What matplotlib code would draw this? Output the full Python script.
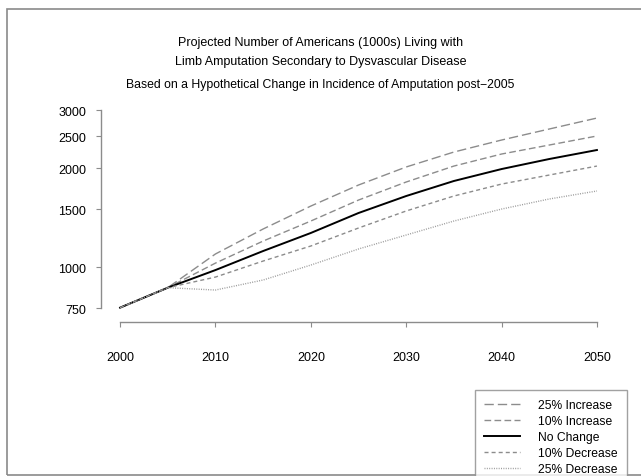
import matplotlib
matplotlib.use("Agg")
import matplotlib.pyplot as plt
from matplotlib.patches import Rectangle
from matplotlib.ticker import FixedLocator, NullLocator

plt.rcParams['font.family'] = ['Liberation Sans', 'DejaVu Sans']

years = [2000, 2005, 2010, 2015, 2020, 2025, 2030, 2035, 2040, 2045, 2050]
inc25 = [752, 865, 1096, 1306, 1534, 1778, 2018, 2241, 2438, 2634, 2845]
inc10 = [752, 865, 1028, 1200, 1381, 1600, 1816, 2031, 2210, 2354, 2508]
no_change = [752, 865, 979, 1119, 1270, 1461, 1646, 1829, 1989, 2134, 2273]
dec10 = [752, 865, 932, 1043, 1159, 1315, 1482, 1646, 1790, 1907, 2031]
dec25 = [752, 865, 851, 913, 1014, 1135, 1252, 1381, 1502, 1612, 1705]

series_labels = ["25% Increase", "10% Increase", "No Change", "10% Decrease", "25% Decrease"]
y_ticks = [750, 1000, 1500, 2000, 2500, 3000]
x_ticks = [2000, 2010, 2020, 2030, 2040, 2050]

title_lines = ["Projected Number of Americans (1000s) Living with",
               "Limb Amputation Secondary to Dysvascular Disease"]
subtitle = "Based on a Hypothetical Change in Incidence of Amputation post\u22122005"

W, H = 641, 477
fig = plt.figure(figsize=(W / 100, H / 100), dpi=100)

# outer frame
fig.patches.append(Rectangle((7 / W, 1 - 476 / H), 1.0, (476 - 10) / H,
                             transform=fig.transFigure, fill=False,
                             edgecolor='#8a8a8a', linewidth=1.2))

ax = fig.add_axes([101 / W, 1 - 323 / H, (616 - 101) / W, (323 - 111) / H])
ax.set_yscale('log')
ax.set_xlim(1998, 2052)
ax.set_ylim(680, 3010)

grey = '#8c8c8c'
styles = [
    dict(color=grey, lw=1.0, dashes=(6.7, 2.9)),
    dict(color=grey, lw=1.0, dashes=(4.8, 2.4)),
    dict(color='black', lw=1.4, linestyle='-'),
    dict(color=grey, lw=1.0, dashes=(2.9, 2.2)),
    dict(color='#9a9a9a', lw=1.0, dashes=(0.7, 1.0)),
]
data = [inc25, inc10, no_change, dec10, dec25]
handles = []
for vals, lab, st in zip(data, series_labels, styles):
    h, = ax.plot(years, vals, label=lab, **st)
    handles.append(h)

for s in ['top', 'right']:
    ax.spines[s].set_visible(False)
ax.spines['left'].set_bounds(750, 3000)
ax.spines['bottom'].set_bounds(2000, 2050)
for s in ['left', 'bottom']:
    ax.spines[s].set_color('#8c8c8c')
    ax.spines[s].set_linewidth(1.0)

ax.yaxis.set_major_locator(FixedLocator(y_ticks))
ax.yaxis.set_minor_locator(NullLocator())
ax.set_yticklabels([str(v) for v in y_ticks])
ax.set_xticks(x_ticks)
ax.set_xticklabels([str(v) for v in x_ticks])
ax.tick_params(axis='y', direction='out', length=3.6, width=0.8, color='#8c8c8c',
               labelsize=9, pad=7)
ax.tick_params(axis='x', direction='out', length=3.6, width=0.8, color='#8c8c8c',
               labelsize=9, pad=17)

fig.text(0.5, 1 - 43 / H, title_lines[0], ha='center', va='center', fontsize=9.0)
fig.text(0.5, 1 - 62 / H, title_lines[1], ha='center', va='center', fontsize=9.0)
fig.text(0.5, 1 - 85 / H, subtitle, ha='center', va='center', fontsize=8.8)

leg = fig.legend(handles=handles, labels=series_labels, loc='upper left',
                 bbox_to_anchor=(475 / W, 1 - 391 / H), bbox_transform=fig.transFigure,
                 frameon=True, fancybox=False, fontsize=8.7, handlelength=3.0,
                 handletextpad=1.5, labelspacing=0.33, borderpad=0.75,
                 borderaxespad=0)
leg.get_frame().set_edgecolor('#8a8a8a')
leg.get_frame().set_linewidth(1.0)

fig.savefig('out.png', dpi=100)
